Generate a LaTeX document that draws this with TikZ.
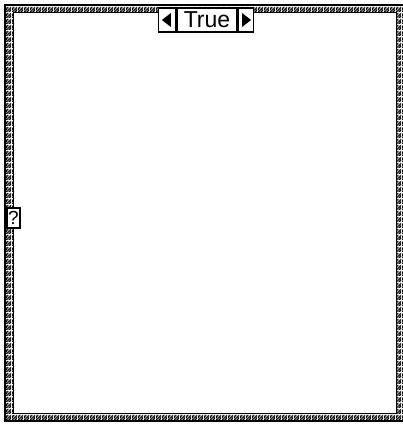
\documentclass[tikz,border=0pt]{standalone}
\usepackage{fontspec}
\setmainfont{Liberation Sans}
\usetikzlibrary{patterns}
\pgfdeclarepatternformonly{lvnoise}{\pgfpointorigin}{\pgfpoint{6pt}{6pt}}{\pgfpoint{6pt}{6pt}}{%
  \pgfpathrectangle{\pgfpoint{0pt}{0pt}}{\pgfpoint{2pt}{1pt}}%
  \pgfpathrectangle{\pgfpoint{3pt}{0pt}}{\pgfpoint{2pt}{1pt}}%
  \pgfpathrectangle{\pgfpoint{1pt}{1pt}}{\pgfpoint{2pt}{1pt}}%
  \pgfpathrectangle{\pgfpoint{4pt}{1pt}}{\pgfpoint{2pt}{2pt}}%
  \pgfpathrectangle{\pgfpoint{0pt}{2pt}}{\pgfpoint{1pt}{2pt}}%
  \pgfpathrectangle{\pgfpoint{2pt}{2pt}}{\pgfpoint{1pt}{2pt}}%
  \pgfpathrectangle{\pgfpoint{3pt}{3pt}}{\pgfpoint{2pt}{1pt}}%
  \pgfpathrectangle{\pgfpoint{0pt}{4pt}}{\pgfpoint{2pt}{1pt}}%
  \pgfpathrectangle{\pgfpoint{4pt}{4pt}}{\pgfpoint{2pt}{1pt}}%
  \pgfpathrectangle{\pgfpoint{1pt}{5pt}}{\pgfpoint{2pt}{1pt}}%
  \pgfpathrectangle{\pgfpoint{5pt}{5pt}}{\pgfpoint{1pt}{1pt}}%
  \pgfusepath{fill}}
\tikzset{
  framepat/.style={pattern=lvnoise, pattern color=black},
  selbox/.style={draw=black, line width=1.6pt, fill=white, minimum width=60pt, minimum height=24pt, inner sep=0pt, font=\fontsize{23}{23}\selectfont},
  arrbox/.style={draw=black, line width=1.6pt, fill=white, minimum height=24pt, inner sep=0pt},
  qbox/.style={draw=black, line width=1.4pt, fill=white, minimum width=13pt, minimum height=20pt, inner sep=0pt, font=\fontsize{19}{19}\selectfont}
}
\begin{document}
\begin{tikzpicture}[x=1pt,y=-1pt]
\useasboundingbox (0,0) rectangle (402,425);
\fill[white] (0,0) rectangle (402,425);
% frame
\path[framepat, even odd rule] (5,5) rectangle (404,421) (13,12) rectangle (396,413);
\draw[line width=1.2pt] (404,5) -- (5,5) -- (5,421) -- (404,421);
\draw[line width=0.8pt] (13,12) rectangle (396,413);
% selector label
\node[selbox] (sel) at (207,20) {True};
\node[arrbox, minimum width=17pt, anchor=east] (lft) at (sel.west) {};
\node[arrbox, minimum width=15pt, anchor=west] (rgt) at (sel.east) {};
\fill ([xshift=-5pt]lft.center) -- ++(9,-7) -- ++(0,14) -- cycle;
\fill ([xshift=5pt]rgt.center) -- ++(-9,-7) -- ++(0,14) -- cycle;
% default / question box
\node[qbox] (q) at (13.5,218) {?};
\end{tikzpicture}
\end{document}
